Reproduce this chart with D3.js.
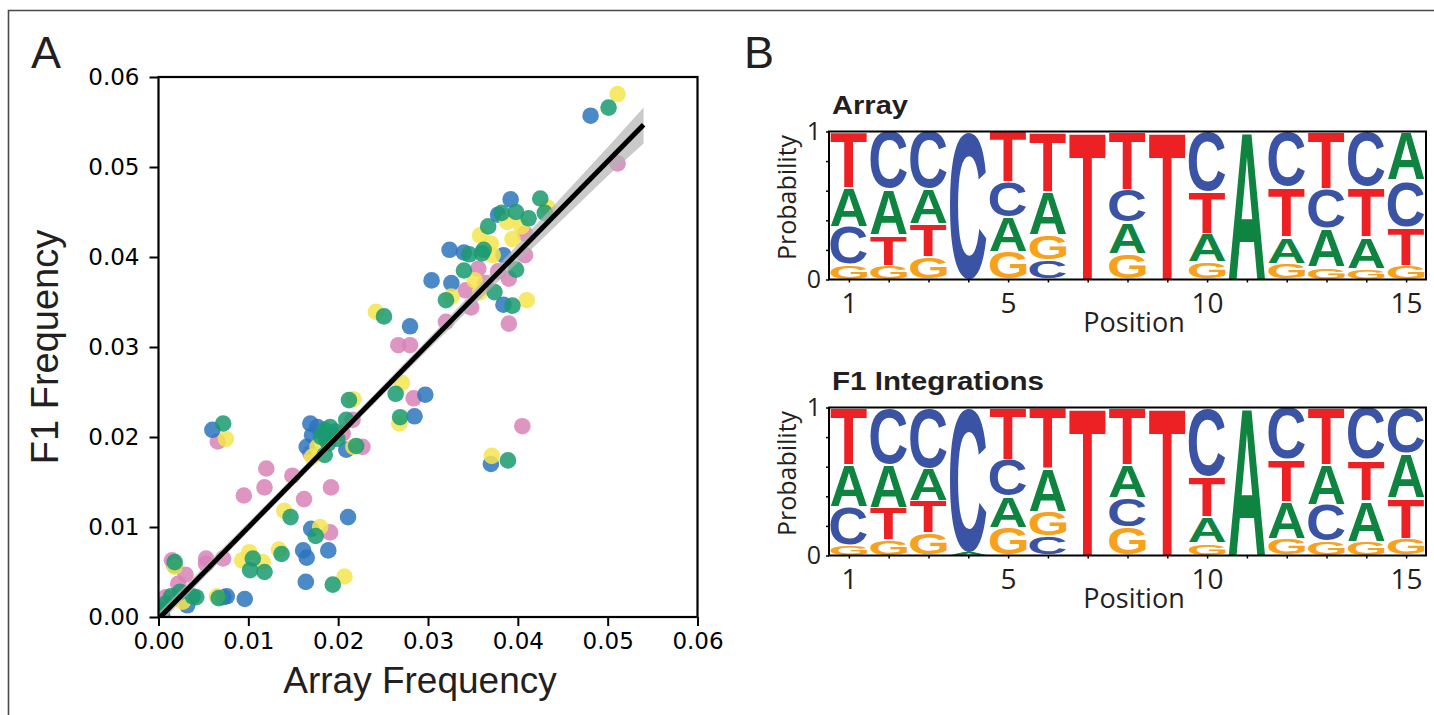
<!DOCTYPE html>
<html>
<head>
<meta charset="utf-8">
<script src="https://cdn.jsdelivr.net/npm/d3@7"></script>
<style>
body { margin: 0; background: #fff; }
</style>
</head>
<body>
<svg id="fig" width="1434" height="715"></svg>
<script>
// ---- panel A data ----
var freqTicks = [0, 0.01, 0.02, 0.03, 0.04, 0.05, 0.06];

var ptsBlue = [[0.0481,0.0557],[0.0392,0.0464],[0.0378,0.0447],[0.0324,0.0408],[0.0340,0.0405],[0.0384,0.0402],
  [0.0304,0.0374],[0.0326,0.0371],[0.0384,0.0347],[0.0280,0.0323],[0.0297,0.0247],[0.0285,0.0223],[0.0370,0.0170],
  [0.0169,0.0215],[0.0177,0.0211],[0.0171,0.0202],[0.0165,0.0189],[0.0209,0.0186],[0.0060,0.0208],[0.0211,0.0111],
  [0.0170,0.0098],[0.0161,0.0074],[0.0165,0.0066],[0.0189,0.0074],[0.0164,0.0039],[0.0096,0.0020],[0.0076,0.0023],
  [0.0072,0.0022],[0.0018,0.0057],[0.0032,0.0013],[0.0004,0.0002]];
var ptsPink = [[0.0511,0.0504],[0.0408,0.0426],[0.0408,0.0402],[0.0390,0.0376],[0.0378,0.0384],[0.0356,0.0387],
  [0.0364,0.0371],[0.0342,0.0363],[0.0348,0.0344],[0.0390,0.0326],[0.0320,0.0328],[0.0267,0.0302],[0.0280,0.0302],
  [0.0284,0.0243],[0.0405,0.0212],[0.0216,0.0219],[0.0205,0.0204],[0.0169,0.0182],[0.0227,0.0189],[0.0066,0.0195],
  [0.0120,0.0165],[0.0118,0.0144],[0.0095,0.0135],[0.0149,0.0157],[0.0162,0.0131],[0.0192,0.0144],[0.0191,0.0094],
  [0.0053,0.0065],[0.0072,0.0065],[0.0053,0.0059],[0.0030,0.0047],[0.0022,0.0037],[0.0015,0.0063],[0.0008,0.0022],
  [0.0007,0.0013]];
var ptsYellow = [[0.0511,0.0581],[0.0433,0.0455],[0.0388,0.0439],[0.0404,0.0434],[0.0358,0.0424],[0.0370,0.0415],
  [0.0394,0.0420],[0.0372,0.0402],[0.0352,0.0374],[0.0358,0.0361],[0.0326,0.0356],[0.0410,0.0352],[0.0242,0.0339],
  [0.0271,0.0260],[0.0268,0.0215],[0.0371,0.0179],[0.0217,0.0242],[0.0177,0.0189],[0.0171,0.0178],[0.0217,0.0189],
  [0.0075,0.0198],[0.0140,0.0118],[0.0180,0.0100],[0.0134,0.0075],[0.0101,0.0072],[0.0093,0.0063],[0.0116,0.0061],
  [0.0207,0.0045],[0.0065,0.0023],[0.0018,0.0056],[0.0027,0.0017]];
var ptsGreen = [[0.0501,0.0566],[0.0425,0.0465],[0.0430,0.0449],[0.0382,0.0449],[0.0398,0.0450],[0.0412,0.0443],
  [0.0367,0.0434],[0.0346,0.0403],[0.0360,0.0404],[0.0362,0.0408],[0.0398,0.0386],[0.0340,0.0385],[0.0374,0.0361],
  [0.0320,0.0352],[0.0394,0.0346],[0.0251,0.0334],[0.0264,0.0248],[0.0269,0.0222],[0.0389,0.0174],[0.0212,0.0241],
  [0.0209,0.0219],[0.0185,0.0208],[0.0191,0.0211],[0.0197,0.0206],[0.0181,0.0200],[0.0189,0.0193],[0.0185,0.0180],
  [0.0193,0.0202],[0.0199,0.0198],[0.0187,0.0197],[0.0220,0.0190],[0.0072,0.0215],[0.0147,0.0111],[0.0175,0.0090],
  [0.0137,0.0070],[0.0105,0.0065],[0.0102,0.0052],[0.0118,0.0050],[0.0194,0.0036],[0.0067,0.0021],[0.0018,0.0061],
  [0.0024,0.0028],[0.0038,0.0023],[0.0042,0.0022],[0.0014,0.0023],[0.0008,0.0015],[0.0002,0.0008]];

// regression fit and its confidence band
var fitX = [0, 0.054];
var fitY = [-0.0002, 0.0547];
var bandX  = [0, 0.01, 0.02, 0.03, 0.04, 0.05, 0.054];
var bandLo = [-0.0009, 0.0095, 0.0197, 0.0297, 0.0394, 0.0490, 0.0526];
var bandHi = [0.0005, 0.0105, 0.0206, 0.0309, 0.0414, 0.0522, 0.0566];

// ---- panel B data: letter probabilities per position ----
var positions = [1, 2, 3, 4, 5, 6, 7, 8, 9, 10, 11, 12, 13, 14, 15];
var posLabels = [1, 5, 10, 15];
var probTicks = [0, 0.2, 0.4, 0.6, 0.8, 1];

var arrayT = [0.38, 0.204, 0.225, 0, 0.34, 0.407, 1, 0.396, 1, 0.283, 0, 0.339, 0.385, 0.339, 0.26];
var arrayA = [0.265, 0.312, 0.235, 0, 0.236, 0.29, 0, 0.21, 0, 0.192, 1, 0.181, 0.26, 0.215, 0.328];
var arrayC = [0.255, 0.389, 0.389, 1, 0.238, 0.129, 0, 0.22, 0, 0.407, 0, 0.373, 0.27, 0.373, 0.317];
var arrayG = [0.10, 0.095, 0.152, 0, 0.186, 0.174, 0, 0.174, 0, 0.118, 0, 0.107, 0.085, 0.073, 0.095];

var f1T = [0.387, 0.218, 0.218, 0, 0.354, 0.41, 1, 0.387, 1, 0.27, 0, 0.282, 0.387, 0.277, 0.275];
var f1A = [0.282, 0.293, 0.221, 0.016, 0.214, 0.293, 0, 0.225, 0, 0.18, 1, 0.248, 0.27, 0.274, 0.3];
var f1C = [0.259, 0.383, 0.41, 0.984, 0.248, 0.128, 0, 0.198, 0, 0.466, 0, 0.354, 0.248, 0.354, 0.309];
var f1G = [0.072, 0.106, 0.151, 0, 0.184, 0.169, 0, 0.19, 0, 0.084, 0, 0.116, 0.095, 0.095, 0.116];

var baseColor = {T: "#ed2024", C: "#3a53a4", A: "#0f8440", G: "#f8a11c"};
var dotColor = {pink: "#d883b7", blue: "#2b74bd", yellow: "#f4e54f", green: "#1a9a70"};

var textDark = "#231f20";
var svg = d3.select("#fig");

// figure frame (top and left only)
svg.append("path")
  .attr("d", "M8.5,715 V10.5 H1434")
  .attr("fill", "none")
  .attr("stroke", "#4a4a4a")
  .attr("stroke-width", 1.6);

// ================= panel A =================
var pa = {left: 158.5, right: 697.5, top: 77, bottom: 617};
var x = d3.scaleLinear().domain([0, 0.06]).range([pa.left, pa.right]);
var y = d3.scaleLinear().domain([0, 0.06]).range([pa.bottom, pa.top]);

svg.append("text").text("A")
  .attr("x", 31).attr("y", 68)
  .attr("font-family", "Liberation Sans, Arial, sans-serif")
  .attr("font-size", 45).attr("fill", textDark);

svg.append("defs").append("clipPath").attr("id", "clipA")
  .append("rect")
  .attr("x", pa.left).attr("y", pa.top)
  .attr("width", pa.right - pa.left).attr("height", pa.bottom - pa.top);

var plotA = svg.append("g").attr("clip-path", "url(#clipA)");

var groups = [["pink", ptsPink], ["blue", ptsBlue], ["yellow", ptsYellow], ["green", ptsGreen]];
groups.forEach(g => {
  plotA.append("g").selectAll("circle")
    .data(g[1])
    .join("circle")
    .attr("cx", d => x(d[0]))
    .attr("cy", d => y(d[1]))
    .attr("r", 8.3)
    .attr("fill", dotColor[g[0]])
    .attr("fill-opacity", 0.85);
});

var band = d3.area()
  .x((d, i) => x(bandX[i]))
  .y0((d, i) => y(bandLo[i]))
  .y1((d, i) => y(bandHi[i]));

plotA.append("path")
  .datum(bandX)
  .attr("d", band)
  .attr("fill", "#b4b4b4")
  .attr("fill-opacity", 0.7);

var fitLine = d3.line()
  .x((d, i) => x(fitX[i]))
  .y((d, i) => y(fitY[i]));

plotA.append("path")
  .datum(fitX)
  .attr("d", fitLine)
  .attr("fill", "none")
  .attr("stroke", "#000")
  .attr("stroke-width", 5);

var fmt = d3.format(".2f");

var gxA = svg.append("g")
  .attr("transform", "translate(0," + pa.bottom + ")")
  .call(d3.axisBottom(x).tickValues(freqTicks).tickFormat(fmt).tickSize(9).tickSizeOuter(0).tickPadding(7));

var gyA = svg.append("g")
  .attr("transform", "translate(" + pa.left + ",0)")
  .call(d3.axisLeft(y).tickValues(freqTicks).tickFormat(fmt).tickSize(9).tickSizeOuter(0).tickPadding(10));

[gxA, gyA].forEach(g => {
  g.select(".domain").remove();
  g.selectAll(".tick line").attr("stroke", "#000").attr("stroke-width", 2);
  g.selectAll(".tick text")
    .attr("font-family", "DejaVu Sans, sans-serif")
    .attr("font-size", 23)
    .attr("fill", "#000");
});

svg.append("rect")
  .attr("x", pa.left).attr("y", pa.top)
  .attr("width", pa.right - pa.left).attr("height", pa.bottom - pa.top)
  .attr("fill", "none").attr("stroke", "#000").attr("stroke-width", 2.2);

svg.append("text").text("Array Frequency")
  .attr("x", (pa.left + pa.right) / 2 - 8).attr("y", 693)
  .attr("text-anchor", "middle")
  .attr("font-family", "Liberation Sans, Arial, sans-serif")
  .attr("font-size", 37).attr("fill", textDark);

svg.append("text").text("F1 Frequency")
  .attr("transform", "translate(58," + ((pa.top + pa.bottom) / 2) + ") rotate(-90)")
  .attr("text-anchor", "middle")
  .attr("font-family", "Liberation Sans, Arial, sans-serif")
  .attr("font-size", 38).attr("fill", textDark);

// ================= panel B =================
svg.append("text").text("B")
  .attr("x", 744).attr("y", 68)
  .attr("font-family", "Liberation Sans, Arial, sans-serif")
  .attr("font-size", 45).attr("fill", textDark);

// tight glyph boxes, so each letter can be stretched to fill its cell
var glyphFont = 'bold 100px "Liberation Sans"';
var ctx = document.createElement("canvas").getContext("2d");
ctx.font = glyphFont;
var glyph = {};
["T", "A", "C", "G"].forEach(L => {
  var m = ctx.measureText(L);
  glyph[L] = {left: m.actualBoundingBoxLeft, right: m.actualBoundingBoxRight,
              asc: m.actualBoundingBoxAscent, desc: m.actualBoundingBoxDescent};
});

function drawLogo(top, title, probs) {
  var box = {left: 829, right: 1426, top: top, bottom: top + 148};
  var lx = d3.scaleLinear().domain([0.5, 15.5]).range([box.left, box.right]);
  var ly = d3.scaleLinear().domain([0, 1]).range([box.bottom, box.top]);
  var colW = lx(2) - lx(1);
  var letterW = colW * 0.92;

  svg.append("text").text(title.text)
    .attr("x", 832).attr("y", top - 18)
    .attr("font-family", "Liberation Sans, Arial, sans-serif")
    .attr("font-weight", "bold")
    .attr("font-size", 26)
    .attr("textLength", title.width).attr("lengthAdjust", "spacingAndGlyphs")
    .attr("fill", textDark);

  var g = svg.append("g");
  positions.forEach((p, i) => {
    var stack = ["T", "A", "C", "G"]
      .map(L => ({L: L, v: probs[L][i]}))
      .filter(d => d.v > 0)
      .sort((a, b) => a.v - b.v);
    var acc = 0;
    stack.forEach(d => {
      var y0 = ly(acc + d.v), y1 = ly(acc);
      acc += d.v;
      var pad = d.v > 0.05 ? 0.8 : 0.2;
      var hh = Math.max(0.5, y1 - y0 - 2 * pad);
      var gm = glyph[d.L];
      var gw = gm.left + gm.right, gh = gm.asc + gm.desc;
      var x0 = lx(p) - letterW / 2;
      g.append("text").text(d.L)
        .attr("font-family", "Liberation Sans, Arial, sans-serif")
        .attr("font-weight", "bold")
        .attr("font-size", 100)
        .attr("fill", baseColor[d.L])
        .attr("transform", "translate(" + x0 + "," + (y0 + pad) + ") scale(" + (letterW / gw) + "," + (hh / gh) + ") translate(" + gm.left + "," + gm.asc + ")");
    });
  });

  var gl = svg.append("g")
    .attr("transform", "translate(" + box.left + ",0)")
    .call(d3.axisLeft(ly).tickValues(probTicks).tickFormat(d => (d === 0 || d === 1) ? d : "").tickSize(3).tickPadding(5));
  var gb = svg.append("g")
    .attr("transform", "translate(0," + box.bottom + ")")
    .call(d3.axisBottom(lx).tickValues(positions).tickFormat(d => posLabels.includes(d) ? d : "").tickSize(3).tickPadding(11));

  [gl, gb].forEach(a => {
    a.select(".domain").remove();
    a.selectAll(".tick line").attr("stroke", "#000").attr("stroke-width", 1.5);
    a.selectAll(".tick text")
      .attr("font-family", "Open Sans, sans-serif")
      .attr("fill", textDark);
  });
  gl.selectAll(".tick text").attr("font-size", 25);
  gb.selectAll(".tick text").attr("font-size", 28);

  svg.append("rect")
    .attr("x", box.left).attr("y", box.top)
    .attr("width", box.right - box.left).attr("height", box.bottom - box.top)
    .attr("fill", "none").attr("stroke", "#000").attr("stroke-width", 2);

  svg.append("text").text("Position")
    .attr("x", 1134).attr("y", box.bottom + 52)
    .attr("text-anchor", "middle")
    .attr("font-family", "Open Sans, sans-serif")
    .attr("font-size", 27).attr("fill", textDark);

  svg.append("text").text("Probability")
    .attr("transform", "translate(796," + ((box.top + box.bottom) / 2 - 8) + ") rotate(-90)")
    .attr("text-anchor", "middle")
    .attr("font-family", "Open Sans, sans-serif")
    .attr("font-size", 25).attr("fill", textDark);
}

drawLogo(131.5, {text: "Array", width: 76}, {T: arrayT, A: arrayA, C: arrayC, G: arrayG});
drawLogo(407.5, {text: "F1 Integrations", width: 212}, {T: f1T, A: f1A, C: f1C, G: f1G});
</script>
</body>
</html>
